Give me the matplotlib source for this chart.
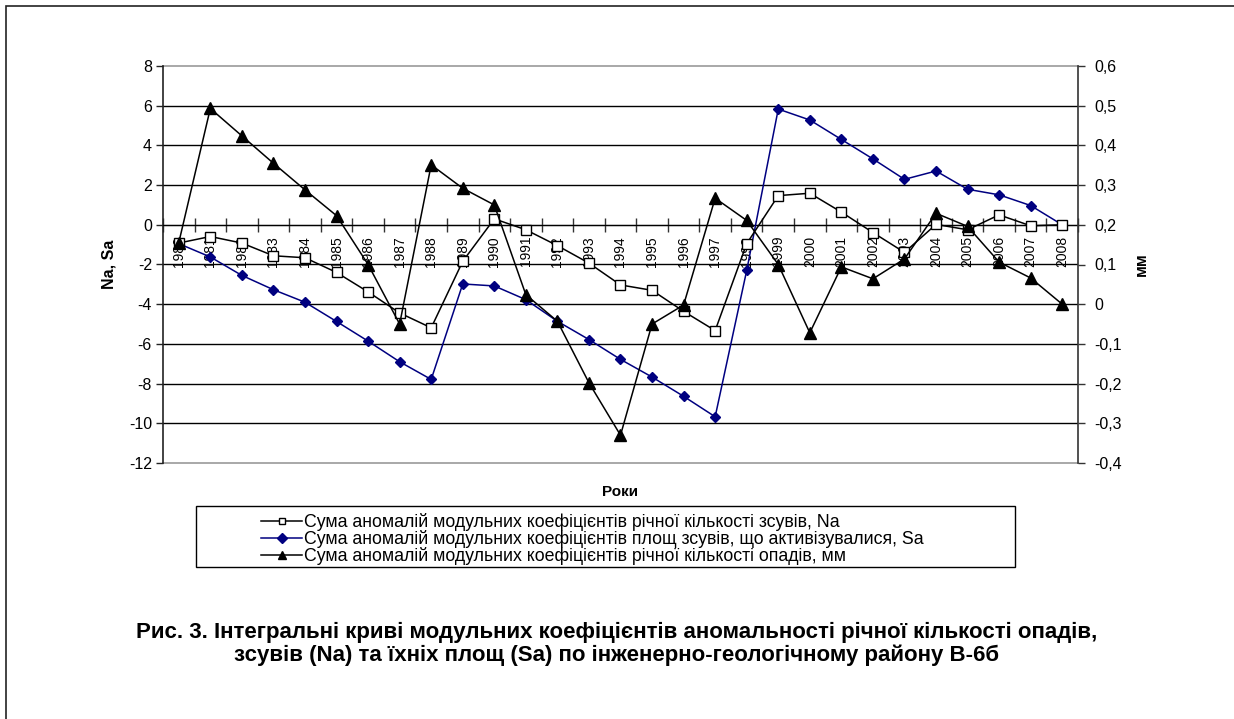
import matplotlib
matplotlib.use("Agg")
import matplotlib.pyplot as plt
from matplotlib.lines import Line2D
from matplotlib.patches import Rectangle
import numpy as np

years = [str(y) for y in range(1980, 2009)]

na_values = [-0.92, -0.59, -0.92, -1.56, -1.66, -2.40, -3.38, -4.44, -5.19, -1.84,
             0.30, -0.25, -1.05, -1.93, -3.03, -3.30, -4.36, -5.33, -0.95, 1.47,
             1.59, 0.64, -0.39, -1.39, 0.02, -0.25, 0.50, -0.05, 0.0]

sa_values = [-0.95, -1.62, -2.55, -3.27, -3.90, -4.87, -5.86, -6.90, -7.79, -2.98,
             -3.08, -3.77, -4.86, -5.78, -6.78, -7.67, -8.64, -9.67, -2.30, 5.83,
             5.28, 4.30, 3.32, 2.29, 2.71, 1.79, 1.51, 0.97, 0.0]

precip_values = [0.155, 0.493, 0.424, 0.355, 0.288, 0.223, 0.100, -0.050, 0.351, 0.292,
                 0.250, 0.024, -0.043, -0.198, -0.330, -0.050, -0.002, 0.267, 0.211, 0.100,
                 -0.072, 0.094, 0.064, 0.114, 0.229, 0.196, 0.106, 0.066, 0.0]

left_ticks = [-12, -10, -8, -6, -4, -2, 0, 2, 4, 6, 8]
right_ticks = [-0.4, -0.3, -0.2, -0.1, 0.0, 0.1, 0.2, 0.3, 0.4, 0.5, 0.6]
right_tick_labels = ["-0,4", "-0,3", "-0,2", "-0,1", "0", "0,1", "0,2", "0,3", "0,4", "0,5", "0,6"]

label_na = "Сума аномалій модульних коефіцієнтів річної кількості зсувів, Na"
label_sa = "Сума аномалій модульних коефіцієнтів площ зсувів, що активізувалися, Sa"
label_pr = "Сума аномалій модульних коефіцієнтів річної кількості опадів, мм"
caption1 = "Рис. 3. Інтегральні криві модульних коефіцієнтів аномальності річної кількості опадів,"
caption2 = "зсувів (Na) та їхніх площ (Sa) по інженерно-геологічному району В-6б"

plt.rcParams['font.family'] = ['Liberation Sans', 'DejaVu Sans']

W, H = 1234, 719
fig = plt.figure(figsize=(W / 100, H / 100), dpi=100)

# outer frame
fig.patches.append(Rectangle((6 / W, -0.1), 1.5, 1 - 6 / H + 0.1, transform=fig.transFigure,
                             fill=False, edgecolor='#222222', lw=1.2))

x0, x1, y0, y1 = 163, 1078, 66, 463
ax = fig.add_axes([x0 / W, 1 - y1 / H, (x1 - x0) / W, (y1 - y0) / H])
ax2 = ax.twinx()

x = np.arange(len(years))
navy = '#000080'

ax.set_xlim(-0.5, len(years) - 0.5)
ax.set_ylim(left_ticks[0], left_ticks[-1])
ax2.set_ylim(right_ticks[0], right_ticks[-1])

# gridlines
for t in left_ticks[1:-1]:
    ax.axhline(t, color='black', lw=1.0, zorder=1)

ax.plot(x, na_values, color='black', lw=1.1, marker='s', markersize=6.8,
        markerfacecolor='white', markeredgecolor='black', markeredgewidth=1.0, zorder=4)
ax.plot(x, sa_values, color=navy, lw=1.1, marker='D', markersize=5.5,
        markerfacecolor=navy, markeredgecolor=navy, zorder=3)
ax2.plot(x, precip_values, color='black', lw=1.1, marker='^', markersize=8,
         markerfacecolor='black', markeredgecolor='black', zorder=5)

# spines
for s in ['top', 'right']:
    ax.spines[s].set_visible(False)
ax.spines['left'].set_color('#222222')
ax.spines['left'].set_linewidth(1.2)
ax.spines['bottom'].set_position(('data', 0))
ax.spines['bottom'].set_color('black')
for s in ['top', 'left', 'bottom']:
    ax2.spines[s].set_visible(False)
ax2.spines['right'].set_color('#333333')
ax2.spines['right'].set_linewidth(1.2)

# gray plot area frame top/bottom
ax.plot([0, 1], [1, 1], transform=ax.transAxes, color='#999999', lw=1.2, clip_on=False, zorder=0)
ax.plot([0, 1], [0, 0], transform=ax.transAxes, color='#999999', lw=1.2, clip_on=False, zorder=0)

ax.set_yticks(left_ticks)
ax.set_yticklabels([str(t) for t in left_ticks], fontsize=11.5)
ax.tick_params(axis='y', direction='out', length=5, width=1, pad=3, color='#222222')

ax2.set_yticks(right_ticks)
ax2.set_yticklabels(right_tick_labels, fontsize=11.5)
ax2.tick_params(axis='y', direction='out', length=5, width=1, pad=7, color='#333333')

ax.set_xticks(x)
ax.set_xticklabels(years, rotation=90, fontsize=10, va='top', ha='center')
ax.set_xticks(np.arange(-0.5, len(years), 1.0), minor=True)
ax.tick_params(axis='x', which='major', length=0, pad=8)
ax.tick_params(axis='x', which='minor', direction='inout', length=10, width=1, color='#333333')

ax.set_ylabel("Na, Sa", fontsize=11.5, fontweight='bold')
ax.yaxis.set_label_coords((117 - x0) / (x1 - x0), 0.5)
ax2.set_ylabel("мм", fontsize=11.5, fontweight='bold')
ax2.yaxis.set_label_coords((1134 - x0) / (x1 - x0), 0.5)

fig.text(620 / W, 1 - 492 / H, "Роки", fontsize=11, fontweight='bold', ha='center', va='center')

# legend
handles = [
    Line2D([], [], color='black', lw=1.1, marker='s', markersize=5, markerfacecolor='white',
           markeredgecolor='black'),
    Line2D([], [], color=navy, lw=1.1, marker='D', markersize=5, markerfacecolor=navy,
           markeredgecolor=navy),
    Line2D([], [], color='black', lw=1.1, marker='^', markersize=6, markerfacecolor='black'),
]
fig.patches.append(Rectangle((196 / W, 1 - 567 / H), (1015 - 196) / W, (567 - 506) / H,
                             transform=fig.transFigure, fill=False, edgecolor='black', lw=1.0))
leg = fig.legend(handles, [label_na, label_sa, label_pr], loc='upper left',
                 bbox_to_anchor=(249 / W, 1 - 501 / H), frameon=False, fontsize=12.8,
                 handlelength=2.3, handletextpad=0.1, labelspacing=-0.06, borderpad=0.2)

fig.text(617 / W, 1 - 632 / H, caption1, fontsize=16, fontweight='bold', ha='center', va='center')
fig.text(617 / W, 1 - 655 / H, caption2, fontsize=16, fontweight='bold', ha='center', va='center')

fig.savefig("out.png", dpi=100)
